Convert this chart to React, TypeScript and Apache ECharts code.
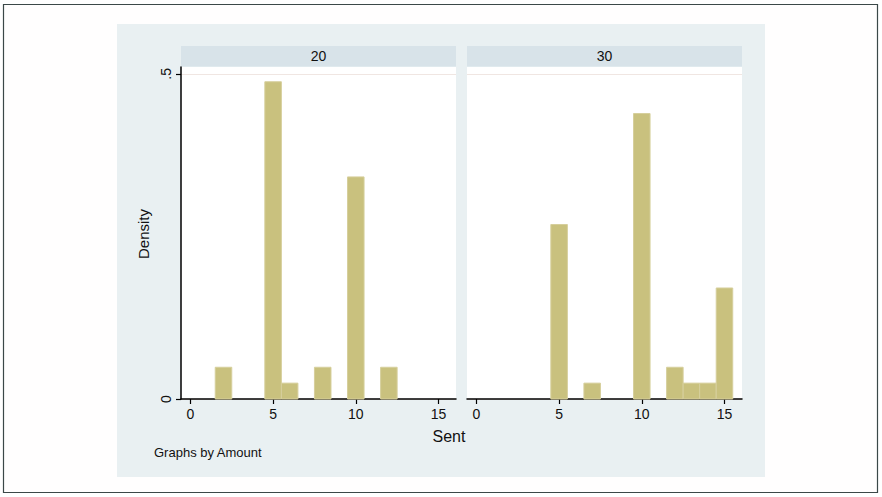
import React, { useEffect, useRef } from "react";
import * as echarts from "echarts";

// Histogram of "Sent", by Amount (bin width 1, centred on integers)
const panelTitles = ["20", "30"];
const sentLeft = [2, 5, 6, 8, 10, 12];
const densityLeft = [0.0488, 0.4878, 0.0244, 0.0488, 0.3415, 0.0488];
const sentRight = [5, 7, 10, 12, 13, 14, 15];
const densityRight = [0.2683, 0.0244, 0.439, 0.0488, 0.0244, 0.0244, 0.1707];
const xTicks = [0, 5, 10, 15];
const yTicks = [0, 0.5];
const yTickLabels = ["0", ".5"];

const FONT = "'Liberation Sans', Arial, sans-serif";
const BAR = "#c9c17e";
const BAR_EDGE = "#d6cf9c";
const TEXT = "#111";

export default function App() {
  const ref = useRef<HTMLDivElement>(null);
  useEffect(() => {
    if (!ref.current) return;
    const chart = echarts.init(ref.current, undefined, { renderer: "svg" });

    const grids = [
      { left: 181, top: 67, width: 275, height: 332 },
      { left: 467, top: 67, width: 275, height: 332 },
    ];

    const xAxis = grids.map((_, i) => ({
      type: "value",
      gridIndex: i,
      min: -0.57,
      max: 16.06,
      axisLine: { show: true, lineStyle: { color: "#000", width: 1.5 } },
      axisTick: { show: true, length: 5, customValues: xTicks, lineStyle: { color: "#000", width: 1.2 } },
      axisLabel: { customValues: xTicks, fontFamily: FONT, fontSize: 14, color: TEXT, margin: 8 },
      splitLine: { show: false },
    }));

    const yAxis = grids.map((_, i) => ({
      type: "value",
      gridIndex: i,
      min: 0,
      max: 0.5105,
      axisLine: { show: i === 0, onZero: false, lineStyle: { color: "#000", width: 1.5 } },
      axisTick: { show: i === 0, length: 5, customValues: yTicks, lineStyle: { color: "#000", width: 1.2 } },
      axisLabel: {
        show: i === 0,
        customValues: yTicks,
        rotate: 90,
        fontFamily: FONT,
        fontSize: 14,
        color: TEXT,
        margin: 8,
        formatter: (v: number) => yTickLabels[yTicks.indexOf(v)] ?? "",
      },
      splitLine: { show: true, lineStyle: { color: "#f0e6e2", width: 1 } },
    }));

    const renderItem = (params: any, api: any) => {
      const x = api.value(0);
      const y = api.value(1);
      const p0 = api.coord([x - 0.5, y]);
      const p1 = api.coord([x + 0.5, 0]);
      return {
        type: "rect",
        shape: { x: p0[0], y: p0[1], width: p1[0] - p0[0], height: p1[1] - p0[1] },
        style: { fill: BAR, stroke: BAR_EDGE, lineWidth: 1 },
      };
    };

    const option: any = {
      animation: false,
      backgroundColor: "#ffffff",
      grid: grids.map((g) => ({ ...g, show: true, backgroundColor: "#ffffff", borderWidth: 0 })),
      xAxis,
      yAxis,
      series: [
        {
          type: "custom",
          xAxisIndex: 0,
          yAxisIndex: 0,
          renderItem,
          data: sentLeft.map((s, i) => [s, densityLeft[i]]),
          z: 1,
        },
        {
          type: "custom",
          xAxisIndex: 1,
          yAxisIndex: 1,
          renderItem,
          data: sentRight.map((s, i) => [s, densityRight[i]]),
          z: 1,
        },
      ],
      graphic: [
        {
          type: "rect",
          z: -10,
          silent: true,
          shape: { x: 3.5, y: 4.5, width: 874, height: 488 },
          style: { fill: "#fffefe", stroke: "#3b4848", lineWidth: 1.2 },
        },
        {
          type: "rect",
          z: -9,
          silent: true,
          shape: { x: 117, y: 24, width: 648, height: 453 },
          style: { fill: "#e9f0f2" },
        },
        ...grids.map((g, i) => ({
          type: "rect",
          z: -8,
          silent: true,
          shape: { x: g.left, y: 46, width: g.width, height: 20.5 },
          style: { fill: "#d8e3e9" },
        })),
        ...grids.map((g, i) => ({
          type: "text",
          z: 5,
          x: g.left + g.width / 2,
          y: 56,
          style: {
            text: panelTitles[i],
            fontFamily: FONT,
            fontSize: 14,
            fill: TEXT,
            align: "center",
            verticalAlign: "middle",
          },
        })),
        {
          type: "text",
          x: 143,
          y: 234,
          rotation: Math.PI / 2,
          style: {
            text: "Density",
            fontFamily: FONT,
            fontSize: 15,
            fill: TEXT,
            align: "center",
            verticalAlign: "middle",
          },
        },
        {
          type: "text",
          x: 449,
          y: 436,
          style: {
            text: "Sent",
            fontFamily: FONT,
            fontSize: 16,
            fill: TEXT,
            align: "center",
            verticalAlign: "middle",
          },
        },
        {
          type: "text",
          x: 154,
          y: 452,
          style: {
            text: "Graphs by Amount",
            fontFamily: FONT,
            fontSize: 13,
            fill: TEXT,
            align: "left",
            verticalAlign: "middle",
          },
        },
      ],
    };
    chart.setOption(option);
    return () => chart.dispose();
  }, []);

  return (
    <div
      ref={ref}
      style={{ position: "fixed", left: 0, top: 0, width: 882, height: 497 }}
    />
  );
}
